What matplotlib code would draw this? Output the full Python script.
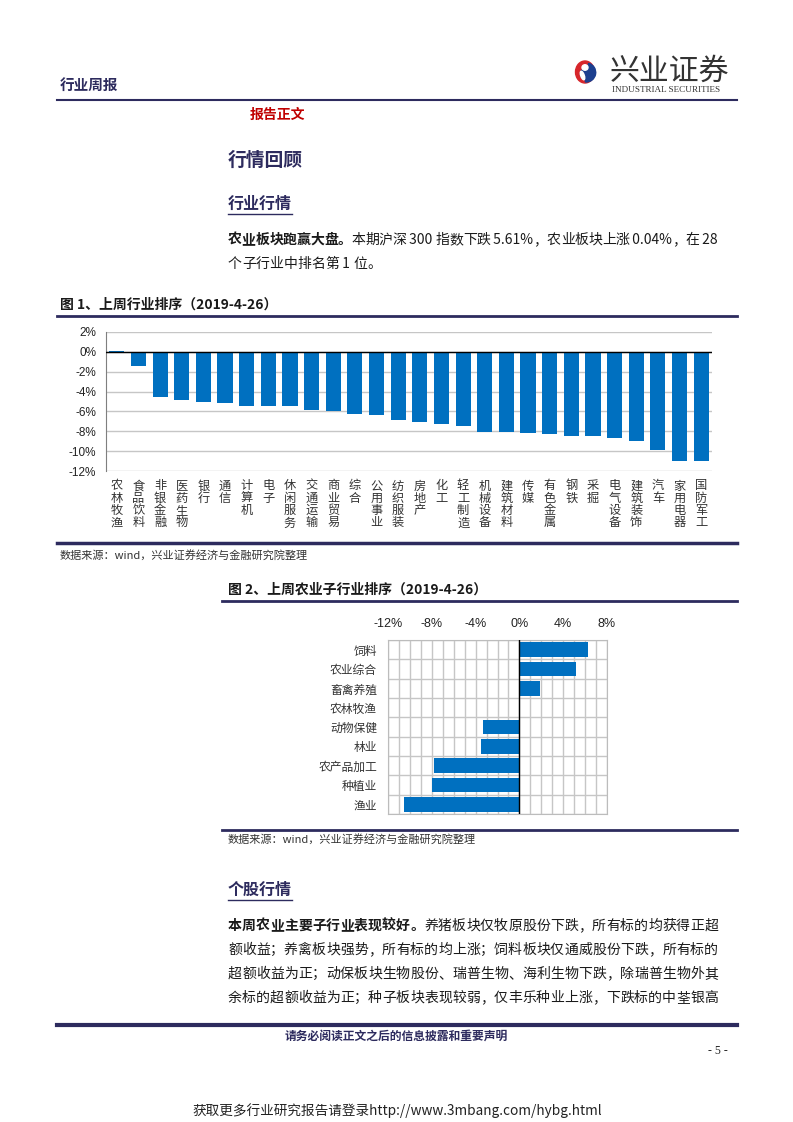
import matplotlib
matplotlib.use('Agg')
import matplotlib.pyplot as plt
from matplotlib.lines import Line2D
from matplotlib.patches import Circle, Wedge, Ellipse
from matplotlib.ticker import MultipleLocator
import matplotlib.transforms as mtransforms

plt.rcParams['font.family'] = ['Noto Sans CJK SC', 'DejaVu Sans']

# ---------------- data ----------------
industries = ['农林牧渔', '食品饮料', '非银金融', '医药生物', '银行', '通信', '计算机', '电子',
              '休闲服务', '交通运输', '商业贸易', '综合', '公用事业', '纺织服装', '房地产', '化工',
              '轻工制造', '机械设备', '建筑材料', '传媒', '有色金属', '钢铁', '采掘', '电气设备',
              '建筑装饰', '汽车', '家用电器', '国防军工']
industry_returns = [0.04, -1.4, -4.5, -4.8, -5.1, -5.2, -5.5, -5.5,
                    -5.5, -5.9, -6.0, -6.3, -6.4, -6.9, -7.1, -7.3,
                    -7.5, -8.1, -8.1, -8.2, -8.3, -8.5, -8.5, -8.7,
                    -9.0, -9.9, -11.0, -11.0]
y1_ticks = [2, 0, -2, -4, -6, -8, -10, -12]

sub_industries = ['饲料', '农业综合', '畜禽养殖', '农林牧渔', '动物保健', '林业', '农产品加工', '种植业', '渔业']
sub_returns = [6.3, 5.2, 1.9, 0.04, -3.3, -3.55, -7.8, -7.95, -10.5]
x2_ticks = [-12, -8, -4, 0, 4, 8]

# ---------------- page ----------------
W, H = 793, 1122
fig = plt.figure(figsize=(W / 100, H / 100), dpi=100)
renderer = fig.canvas.get_renderer()

NAVY = '#2d2b5e'
BLUE = '#0070c0'
GRID = '#c6c6c6'
TXT = '#1a1a1a'


def fx(x):
    return x / W


def fy(y):
    return 1 - y / H


def txt(x, y, s, **kw):
    kw.setdefault('va', 'center')
    kw.setdefault('ha', 'left')
    return fig.text(fx(x), fy(y), s, **kw)


def hline(x0, x1, y, lw, color=NAVY):
    fig.add_artist(Line2D([fx(x0), fx(x1)], [fy(y), fy(y)], lw=lw, color=color,
                          transform=fig.transFigure))


def tokens_of(s, weight):
    toks = []
    buf = ''
    for ch in s:
        if ord(ch) > 0x2e80:
            if buf:
                toks.append((buf, weight))
                buf = ''
            toks.append((ch, weight))
        else:
            buf += ch
    if buf:
        toks.append((buf, weight))
    return toks


def line_runs(x0, x1, y, runs, size=10, color=TXT):
    toks = []
    for s, w in runs:
        toks += tokens_of(s, w)
    arts = [txt(x0, y, s, fontsize=size, fontweight=w, color=color) for s, w in toks]
    widths = [a.get_window_extent(renderer).width for a in arts]
    if x1 is None or len(arts) < 2:
        gap = 0.0
    else:
        gap = (x1 - x0 - sum(widths)) / (len(arts) - 1)
    x = x0
    for a, wd in zip(arts, widths):
        a.set_x(fx(x))
        x += wd + gap


# header
txt(60, 85, '行业周报', fontsize=10.5, fontweight='bold', color=NAVY)
hline(57, 737, 100, 1.5)

# logo
axl = fig.add_axes([fx(572), fy(86), 26 / W, 28 / H])
axl.set_xlim(-1.3, 1.3)
axl.set_ylim(-1.4, 1.4)
axl.axis('off')
axl.add_patch(Ellipse((0, 0), 1.9, 2.2, color='#d7262b'))
axl.add_patch(Wedge((0.12, -0.05), 0.95, -95, 75, color='#1c3f8f'))
axl.add_patch(Ellipse((0.08, -0.2), 1.05, 1.15, color='#1c3f8f'))
axl.add_patch(Ellipse((0.0, 0.45), 0.6, 0.55, color='white'))
axl.add_patch(Ellipse((-0.25, -0.35), 0.35, 0.9, angle=20, color='white'))
txt(610, 71, '兴业证券', fontsize=21.5, color='#333333')
txt(612, 90, 'INDUSTRIAL SECURITIES', fontsize=6.6, color='#333333', family='Liberation Serif')

txt(250, 115, '报告正文', fontsize=10, fontweight='bold', color='#c00000')
txt(228, 160, '行情回顾', fontsize=13.5, fontweight='bold', color=NAVY)

txt(228, 204, '行业行情', fontsize=11.5, fontweight='bold', color=NAVY)
hline(228, 292, 214, 1.0)

line_runs(228, 718, 240, [('农业板块跑赢大盘。', 'bold'),
                          ('本期沪深 300 指数下跌 5.61%，农业板块上涨 0.04%，在 28', 'normal')])
line_runs(228, None, 264, [('个子行业中排名第 1 位。', 'normal')])

# figure 1 title
txt(60, 305, '图 1、上周行业排序（2019-4-26）', fontsize=10, fontweight='bold', color=TXT)
hline(57, 737, 316, 2.0)

# ---------------- chart 1 ----------------
ax1 = fig.add_axes([fx(106), fy(471), (712 - 106) / W, (471 - 332) / H])
xs = list(range(len(industries)))
ax1.bar(xs, industry_returns, width=0.7, color=BLUE, zorder=3)
ax1.set_xlim(-0.5, len(industries) - 0.5)
ax1.set_ylim(-12, 2)
ax1.set_yticks(y1_ticks)
ax1.set_yticklabels([f'{v}%' for v in y1_ticks], fontsize=8.5, family='Liberation Sans', color='#222222')
ax1.yaxis.grid(True, color=GRID, lw=1, zorder=0)
ax1.axhline(0, color='black', lw=1, zorder=4)
for s in ['top', 'right', 'bottom']:
    ax1.spines[s].set_visible(False)
ax1.spines['left'].set_color('#7f7f7f')
ax1.tick_params(axis='y', length=0, pad=7)
ax1.set_xticks([])
trans1 = mtransforms.blended_transform_factory(ax1.transData, fig.transFigure)
for i, name in enumerate(industries):
    for j, ch in enumerate(name):
        ax1.text(i, fy(486 + j * 12.3), ch, transform=trans1, ha='center', va='center',
                 fontsize=8.8, color='#333333', clip_on=False)

hline(57, 737, 543, 2.5)
txt(60, 555, '数据来源：wind，兴业证券经济与金融研究院整理', fontsize=8, color='#333333')

# figure 2 title
txt(228, 590, '图 2、上周农业子行业排序（2019-4-26）', fontsize=10, fontweight='bold', color=TXT)
hline(222, 737, 601, 2.0)

# ---------------- chart 2 ----------------
ax2 = fig.add_axes([fx(388), fy(814), (607 - 388) / W, (814 - 640) / H])
ys = list(range(len(sub_industries)))
ax2.barh(ys, sub_returns, height=0.75, color=BLUE, zorder=3)
ax2.set_xlim(-12, 8)
ax2.set_ylim(len(sub_industries) - 0.5, -0.5)
ax2.xaxis.tick_top()
ax2.set_xticks(x2_ticks)
ax2.set_xticklabels([f'{v}%' for v in x2_ticks], fontsize=9, family='Liberation Sans', color='#222222')
ax2.xaxis.set_minor_locator(MultipleLocator(1))
ax2.set_yticks(ys)
ax2.set_yticklabels(sub_industries, fontsize=8.5, color='#333333')
ax2.set_yticks([i - 0.5 for i in range(len(sub_industries) + 1)], minor=True)
ax2.grid(True, which='both', axis='x', color=GRID, lw=1, zorder=0)
ax2.grid(True, which='minor', axis='y', color=GRID, lw=1, zorder=0)
ax2.axvline(0, color='black', lw=1, zorder=4)
for s in ax2.spines.values():
    s.set_color('#bcbcbc')
ax2.tick_params(which='both', length=0)
ax2.tick_params(axis='x', pad=7)
ax2.tick_params(axis='y', pad=8)

hline(222, 737, 830, 2.0)
txt(228, 839, '数据来源：wind，兴业证券经济与金融研究院整理', fontsize=8, color='#333333')

# ---------------- second section ----------------
txt(228, 890, '个股行情', fontsize=11.5, fontweight='bold', color=NAVY)
hline(228, 292, 900, 1.0)

para = [
    [('本周农业主要子行业表现较好。', 'bold'), ('养猪板块仅牧原股份下跌，所有标的均获得正超', 'normal')],
    [('额收益；养禽板块强势，所有标的均上涨；饲料板块仅通威股份下跌，所有标的', 'normal')],
    [('超额收益为正；动保板块生物股份、瑞普生物、海利生物下跌，除瑞普生物外其', 'normal')],
    [('余标的超额收益为正；种子板块表现较弱，仅丰乐种业上涨，下跌标的中荃银高', 'normal')],
]
for k, runs in enumerate(para):
    line_runs(228, 718, 926 + k * 24, runs)

# footer
hline(57, 737, 1025, 3.0)
txt(396, 1036, '请务必阅读正文之后的信息披露和重要声明', fontsize=8.5, fontweight='bold',
    color=NAVY, ha='center')
txt(718, 1051, '- 5 -', fontsize=8.5, color='#222222', family='Liberation Serif', ha='center')
txt(397, 1111, '获取更多行业研究报告请登录http://www.3mbang.com/hybg.html', fontsize=9.8,
    color='#222222', ha='center', family=['Noto Sans CJK SC', 'DejaVu Sans'])

fig.savefig('out.png', dpi=100)
